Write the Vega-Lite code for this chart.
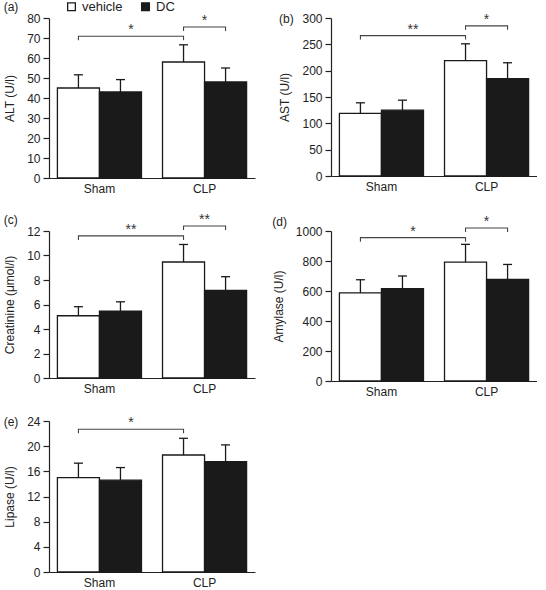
{
  "$schema": "https://vega.github.io/schema/vega-lite/v6.json",
  "padding": {"left": 3, "top": 0, "right": 0, "bottom": 0},
  "background": "white",
  "datasets": {
    "bars": [
      {"panel": "a", "group": "Sham", "trt": "vehicle", "mean": 45, "upper": 51.6},
      {"panel": "a", "group": "Sham", "trt": "DC", "mean": 43, "upper": 49.2},
      {"panel": "a", "group": "CLP", "trt": "vehicle", "mean": 58, "upper": 66.6},
      {"panel": "a", "group": "CLP", "trt": "DC", "mean": 48, "upper": 55},
      {"panel": "b", "group": "Sham", "trt": "vehicle", "mean": 119, "upper": 139},
      {"panel": "b", "group": "Sham", "trt": "DC", "mean": 125, "upper": 144},
      {"panel": "b", "group": "CLP", "trt": "vehicle", "mean": 219, "upper": 251},
      {"panel": "b", "group": "CLP", "trt": "DC", "mean": 185, "upper": 215},
      {"panel": "c", "group": "Sham", "trt": "vehicle", "mean": 5.08, "upper": 5.82},
      {"panel": "c", "group": "Sham", "trt": "DC", "mean": 5.45, "upper": 6.22},
      {"panel": "c", "group": "CLP", "trt": "vehicle", "mean": 9.47, "upper": 10.9},
      {"panel": "c", "group": "CLP", "trt": "DC", "mean": 7.15, "upper": 8.27},
      {"panel": "d", "group": "Sham", "trt": "vehicle", "mean": 587, "upper": 675},
      {"panel": "d", "group": "Sham", "trt": "DC", "mean": 615, "upper": 700},
      {"panel": "d", "group": "CLP", "trt": "vehicle", "mean": 793, "upper": 911},
      {"panel": "d", "group": "CLP", "trt": "DC", "mean": 677, "upper": 777},
      {"panel": "e", "group": "Sham", "trt": "vehicle", "mean": 15.0, "upper": 17.3},
      {"panel": "e", "group": "Sham", "trt": "DC", "mean": 14.6, "upper": 16.6},
      {"panel": "e", "group": "CLP", "trt": "vehicle", "mean": 18.6, "upper": 21.25},
      {"panel": "e", "group": "CLP", "trt": "DC", "mean": 17.55, "upper": 20.2}
    ],
    "brackets": [
      {"panel": "a", "id": "a1", "group": "Sham", "trt": "vehicle", "ord": 1, "y": 68.9},
      {"panel": "a", "id": "a1", "group": "Sham", "trt": "vehicle", "ord": 2, "y": 70.9},
      {"panel": "a", "id": "a1", "group": "CLP", "trt": "vehicle", "ord": 3, "y": 70.9},
      {"panel": "a", "id": "a1", "group": "CLP", "trt": "vehicle", "ord": 4, "y": 68.9},
      {"panel": "a", "id": "a2", "group": "CLP", "trt": "vehicle", "ord": 1, "y": 73.5},
      {"panel": "a", "id": "a2", "group": "CLP", "trt": "vehicle", "ord": 2, "y": 75.5},
      {"panel": "a", "id": "a2", "group": "CLP", "trt": "DC", "ord": 3, "y": 75.5},
      {"panel": "a", "id": "a2", "group": "CLP", "trt": "DC", "ord": 4, "y": 73.5},
      {"panel": "b", "id": "b1", "group": "Sham", "trt": "vehicle", "ord": 1, "y": 259},
      {"panel": "b", "id": "b1", "group": "Sham", "trt": "vehicle", "ord": 2, "y": 266.5},
      {"panel": "b", "id": "b1", "group": "CLP", "trt": "vehicle", "ord": 3, "y": 266.5},
      {"panel": "b", "id": "b1", "group": "CLP", "trt": "vehicle", "ord": 4, "y": 259},
      {"panel": "b", "id": "b2", "group": "CLP", "trt": "vehicle", "ord": 1, "y": 277.5},
      {"panel": "b", "id": "b2", "group": "CLP", "trt": "vehicle", "ord": 2, "y": 285},
      {"panel": "b", "id": "b2", "group": "CLP", "trt": "DC", "ord": 3, "y": 285},
      {"panel": "b", "id": "b2", "group": "CLP", "trt": "DC", "ord": 4, "y": 277.5},
      {"panel": "c", "id": "c1", "group": "Sham", "trt": "vehicle", "ord": 1, "y": 11.27},
      {"panel": "c", "id": "c1", "group": "Sham", "trt": "vehicle", "ord": 2, "y": 11.6},
      {"panel": "c", "id": "c1", "group": "CLP", "trt": "vehicle", "ord": 3, "y": 11.6},
      {"panel": "c", "id": "c1", "group": "CLP", "trt": "vehicle", "ord": 4, "y": 11.27},
      {"panel": "c", "id": "c2", "group": "CLP", "trt": "vehicle", "ord": 1, "y": 12.08},
      {"panel": "c", "id": "c2", "group": "CLP", "trt": "vehicle", "ord": 2, "y": 12.41},
      {"panel": "c", "id": "c2", "group": "CLP", "trt": "DC", "ord": 3, "y": 12.41},
      {"panel": "c", "id": "c2", "group": "CLP", "trt": "DC", "ord": 4, "y": 12.08},
      {"panel": "d", "id": "d1", "group": "Sham", "trt": "vehicle", "ord": 1, "y": 929},
      {"panel": "d", "id": "d1", "group": "Sham", "trt": "vehicle", "ord": 2, "y": 956},
      {"panel": "d", "id": "d1", "group": "CLP", "trt": "vehicle", "ord": 3, "y": 956},
      {"panel": "d", "id": "d1", "group": "CLP", "trt": "vehicle", "ord": 4, "y": 929},
      {"panel": "d", "id": "d2", "group": "CLP", "trt": "vehicle", "ord": 1, "y": 993},
      {"panel": "d", "id": "d2", "group": "CLP", "trt": "vehicle", "ord": 2, "y": 1020},
      {"panel": "d", "id": "d2", "group": "CLP", "trt": "DC", "ord": 3, "y": 1020},
      {"panel": "d", "id": "d2", "group": "CLP", "trt": "DC", "ord": 4, "y": 993},
      {"panel": "e", "id": "e1", "group": "Sham", "trt": "vehicle", "ord": 1, "y": 22.06},
      {"panel": "e", "id": "e1", "group": "Sham", "trt": "vehicle", "ord": 2, "y": 22.7},
      {"panel": "e", "id": "e1", "group": "CLP", "trt": "vehicle", "ord": 3, "y": 22.7},
      {"panel": "e", "id": "e1", "group": "CLP", "trt": "vehicle", "ord": 4, "y": 22.06}
    ],
    "stars": [
      {"panel": "a", "kind": "cross", "group": "Sham", "trt": "DC", "y": 70.9, "label": "*"},
      {"panel": "a", "kind": "within", "group": "CLP", "trt": "DC", "y": 75.5, "label": "*"},
      {"panel": "b", "kind": "cross", "group": "Sham", "trt": "DC", "y": 266.5, "label": "**"},
      {"panel": "b", "kind": "within", "group": "CLP", "trt": "DC", "y": 285, "label": "*"},
      {"panel": "c", "kind": "cross", "group": "Sham", "trt": "DC", "y": 11.6, "label": "**"},
      {"panel": "c", "kind": "within", "group": "CLP", "trt": "DC", "y": 12.41, "label": "**"},
      {"panel": "d", "kind": "cross", "group": "Sham", "trt": "DC", "y": 956, "label": "*"},
      {"panel": "d", "kind": "within", "group": "CLP", "trt": "DC", "y": 1020, "label": "*"},
      {"panel": "e", "kind": "cross", "group": "Sham", "trt": "DC", "y": 22.7, "label": "*"}
    ]
  },
  "columns": 2,
  "spacing": {"column": 17, "row": 18},
  "resolve": {"legend": {"fill": "independent"}, "scale": {"y": "independent"}},
  "concat": [
    {
      "width": 206, "height": 160,
      "title": {"text": "(a)"},
      "layer": [
        {"data": {"name": "bars"}, "transform": [{"filter": "datum.panel == 'a'"}],
         "mark": {"type": "rule", "stroke": "#1a1a1a", "strokeWidth": 1.3},
         "encoding": {"x": {"field": "group", "type": "nominal", "sort": ["Sham", "CLP"], "scale": {"paddingInner": 0.2, "paddingOuter": 0.08}},
           "xOffset": {"field": "trt", "type": "nominal", "sort": ["vehicle", "DC"], "scale": {"paddingInner": 0, "paddingOuter": 0}},
           "y": {"field": "mean", "type": "quantitative", "scale": {"domain": [0, 80], "nice": false}, "axis": {"title": "ALT (U/l)", "values": [0, 10, 20, 30, 40, 50, 60, 70, 80]}},
           "y2": {"field": "upper"}}},
        {"data": {"name": "bars"}, "transform": [{"filter": "datum.panel == 'a'"}],
         "mark": {"type": "tick", "orient": "horizontal", "color": "#1a1a1a", "thickness": 1.3, "size": 9, "opacity": 1},
         "encoding": {"x": {"field": "group", "type": "nominal", "sort": ["Sham", "CLP"]},
           "xOffset": {"field": "trt", "type": "nominal", "sort": ["vehicle", "DC"]},
           "y": {"field": "upper", "type": "quantitative", "axis": {"title": "ALT (U/l)", "values": [0, 10, 20, 30, 40, 50, 60, 70, 80]}}}},
        {"data": {"name": "bars"}, "transform": [{"filter": "datum.panel == 'a'"}],
         "mark": {"type": "bar", "stroke": "#1a1a1a", "strokeWidth": 1.3, "opacity": 1},
         "encoding": {"x": {"field": "group", "type": "nominal", "sort": ["Sham", "CLP"]},
           "xOffset": {"field": "trt", "type": "nominal", "sort": ["vehicle", "DC"]},
           "y": {"field": "mean", "type": "quantitative", "axis": {"title": "ALT (U/l)", "values": [0, 10, 20, 30, 40, 50, 60, 70, 80]}},
           "fill": {"field": "trt", "type": "nominal", "sort": ["vehicle", "DC"], "scale": {"domain": ["vehicle", "DC"], "range": ["white", "#1a1a1a"]},
             "legend": {"orient": "none", "legendX": 16, "legendY": -18, "direction": "horizontal", "title": null, "symbolType": "square", "symbolSize": 60, "symbolStrokeColor": "#1a1a1a", "symbolStrokeWidth": 1.3, "labelFontSize": 13, "labelOffset": 4, "columnPadding": 16, "labelColor": "#222"}}}},
        {"data": {"name": "brackets"}, "transform": [{"filter": "datum.panel == 'a'"}],
         "mark": {"type": "line", "stroke": "#444", "strokeWidth": 1.1},
         "encoding": {"x": {"field": "group", "type": "nominal", "sort": ["Sham", "CLP"]},
           "xOffset": {"field": "trt", "type": "nominal", "sort": ["vehicle", "DC"]},
           "y": {"field": "y", "type": "quantitative", "axis": {"title": "ALT (U/l)", "values": [0, 10, 20, 30, 40, 50, 60, 70, 80]}},
           "detail": {"field": "id"}, "order": {"field": "ord"}}},
        {"data": {"name": "stars"}, "transform": [{"filter": "datum.panel == 'a' && datum.kind == 'cross'"}],
         "mark": {"type": "text", "fontSize": 14, "dx": 10.5, "dy": -2, "baseline": "alphabetic", "fill": "#333"},
         "encoding": {"x": {"field": "group", "type": "nominal", "sort": ["Sham", "CLP"]},
           "xOffset": {"field": "trt", "type": "nominal", "sort": ["vehicle", "DC"]},
           "y": {"field": "y", "type": "quantitative", "axis": {"title": "ALT (U/l)", "values": [0, 10, 20, 30, 40, 50, 60, 70, 80]}}, "text": {"field": "label"}}},
        {"data": {"name": "stars"}, "transform": [{"filter": "datum.panel == 'a' && datum.kind == 'within'"}],
         "mark": {"type": "text", "fontSize": 14, "dy": -2, "baseline": "alphabetic", "fill": "#333"},
         "encoding": {"x": {"field": "group", "type": "nominal", "sort": ["Sham", "CLP"]},
           "y": {"field": "y", "type": "quantitative", "axis": {"title": "ALT (U/l)", "values": [0, 10, 20, 30, 40, 50, 60, 70, 80]}}, "text": {"field": "label"}}}
      ]
    },
    {
      "width": 206, "height": 158,
      "title": {"text": "(b)"},
      "layer": [
        {"data": {"name": "bars"}, "transform": [{"filter": "datum.panel == 'b'"}],
         "mark": {"type": "rule", "stroke": "#1a1a1a", "strokeWidth": 1.3},
         "encoding": {"x": {"field": "group", "type": "nominal", "sort": ["Sham", "CLP"], "scale": {"paddingInner": 0.2, "paddingOuter": 0.08}},
           "xOffset": {"field": "trt", "type": "nominal", "sort": ["vehicle", "DC"], "scale": {"paddingInner": 0, "paddingOuter": 0}},
           "y": {"field": "mean", "type": "quantitative", "scale": {"domain": [0, 300], "nice": false}, "axis": {"title": "AST (U/l)", "values": [0, 50, 100, 150, 200, 250, 300]}},
           "y2": {"field": "upper"}}},
        {"data": {"name": "bars"}, "transform": [{"filter": "datum.panel == 'b'"}],
         "mark": {"type": "tick", "orient": "horizontal", "color": "#1a1a1a", "thickness": 1.3, "size": 9, "opacity": 1},
         "encoding": {"x": {"field": "group", "type": "nominal", "sort": ["Sham", "CLP"]},
           "xOffset": {"field": "trt", "type": "nominal", "sort": ["vehicle", "DC"]},
           "y": {"field": "upper", "type": "quantitative", "axis": {"title": "AST (U/l)", "values": [0, 50, 100, 150, 200, 250, 300]}}}},
        {"data": {"name": "bars"}, "transform": [{"filter": "datum.panel == 'b'"}],
         "mark": {"type": "bar", "stroke": "#1a1a1a", "strokeWidth": 1.3, "opacity": 1},
         "encoding": {"x": {"field": "group", "type": "nominal", "sort": ["Sham", "CLP"]},
           "xOffset": {"field": "trt", "type": "nominal", "sort": ["vehicle", "DC"]},
           "y": {"field": "mean", "type": "quantitative", "axis": {"title": "AST (U/l)", "values": [0, 50, 100, 150, 200, 250, 300]}},
           "fill": {"field": "trt", "type": "nominal", "sort": ["vehicle", "DC"], "scale": {"domain": ["vehicle", "DC"], "range": ["white", "#1a1a1a"]}, "legend": null}}},
        {"data": {"name": "brackets"}, "transform": [{"filter": "datum.panel == 'b'"}],
         "mark": {"type": "line", "stroke": "#444", "strokeWidth": 1.1},
         "encoding": {"x": {"field": "group", "type": "nominal", "sort": ["Sham", "CLP"]},
           "xOffset": {"field": "trt", "type": "nominal", "sort": ["vehicle", "DC"]},
           "y": {"field": "y", "type": "quantitative", "axis": {"title": "AST (U/l)", "values": [0, 50, 100, 150, 200, 250, 300]}},
           "detail": {"field": "id"}, "order": {"field": "ord"}}},
        {"data": {"name": "stars"}, "transform": [{"filter": "datum.panel == 'b' && datum.kind == 'cross'"}],
         "mark": {"type": "text", "fontSize": 14, "dx": 10.5, "dy": -2, "baseline": "alphabetic", "fill": "#333"},
         "encoding": {"x": {"field": "group", "type": "nominal", "sort": ["Sham", "CLP"]},
           "xOffset": {"field": "trt", "type": "nominal", "sort": ["vehicle", "DC"]},
           "y": {"field": "y", "type": "quantitative", "axis": {"title": "AST (U/l)", "values": [0, 50, 100, 150, 200, 250, 300]}}, "text": {"field": "label"}}},
        {"data": {"name": "stars"}, "transform": [{"filter": "datum.panel == 'b' && datum.kind == 'within'"}],
         "mark": {"type": "text", "fontSize": 14, "dy": -2, "baseline": "alphabetic", "fill": "#333"},
         "encoding": {"x": {"field": "group", "type": "nominal", "sort": ["Sham", "CLP"]},
           "y": {"field": "y", "type": "quantitative", "axis": {"title": "AST (U/l)", "values": [0, 50, 100, 150, 200, 250, 300]}}, "text": {"field": "label"}}}
      ]
    },
    {
      "width": 206, "height": 147,
      "title": {"text": "(c)"},
      "layer": [
        {"data": {"name": "bars"}, "transform": [{"filter": "datum.panel == 'c'"}],
         "mark": {"type": "rule", "stroke": "#1a1a1a", "strokeWidth": 1.3},
         "encoding": {"x": {"field": "group", "type": "nominal", "sort": ["Sham", "CLP"], "scale": {"paddingInner": 0.2, "paddingOuter": 0.08}},
           "xOffset": {"field": "trt", "type": "nominal", "sort": ["vehicle", "DC"], "scale": {"paddingInner": 0, "paddingOuter": 0}},
           "y": {"field": "mean", "type": "quantitative", "scale": {"domain": [0, 12], "nice": false}, "axis": {"title": "Creatinine (μmol/l)", "values": [0, 2, 4, 6, 8, 10, 12]}},
           "y2": {"field": "upper"}}},
        {"data": {"name": "bars"}, "transform": [{"filter": "datum.panel == 'c'"}],
         "mark": {"type": "tick", "orient": "horizontal", "color": "#1a1a1a", "thickness": 1.3, "size": 9, "opacity": 1},
         "encoding": {"x": {"field": "group", "type": "nominal", "sort": ["Sham", "CLP"]},
           "xOffset": {"field": "trt", "type": "nominal", "sort": ["vehicle", "DC"]},
           "y": {"field": "upper", "type": "quantitative", "axis": {"title": "Creatinine (μmol/l)", "values": [0, 2, 4, 6, 8, 10, 12]}}}},
        {"data": {"name": "bars"}, "transform": [{"filter": "datum.panel == 'c'"}],
         "mark": {"type": "bar", "stroke": "#1a1a1a", "strokeWidth": 1.3, "opacity": 1},
         "encoding": {"x": {"field": "group", "type": "nominal", "sort": ["Sham", "CLP"]},
           "xOffset": {"field": "trt", "type": "nominal", "sort": ["vehicle", "DC"]},
           "y": {"field": "mean", "type": "quantitative", "axis": {"title": "Creatinine (μmol/l)", "values": [0, 2, 4, 6, 8, 10, 12]}},
           "fill": {"field": "trt", "type": "nominal", "sort": ["vehicle", "DC"], "scale": {"domain": ["vehicle", "DC"], "range": ["white", "#1a1a1a"]}, "legend": null}}},
        {"data": {"name": "brackets"}, "transform": [{"filter": "datum.panel == 'c'"}],
         "mark": {"type": "line", "stroke": "#444", "strokeWidth": 1.1},
         "encoding": {"x": {"field": "group", "type": "nominal", "sort": ["Sham", "CLP"]},
           "xOffset": {"field": "trt", "type": "nominal", "sort": ["vehicle", "DC"]},
           "y": {"field": "y", "type": "quantitative", "axis": {"title": "Creatinine (μmol/l)", "values": [0, 2, 4, 6, 8, 10, 12]}},
           "detail": {"field": "id"}, "order": {"field": "ord"}}},
        {"data": {"name": "stars"}, "transform": [{"filter": "datum.panel == 'c' && datum.kind == 'cross'"}],
         "mark": {"type": "text", "fontSize": 14, "dx": 10.5, "dy": -2, "baseline": "alphabetic", "fill": "#333"},
         "encoding": {"x": {"field": "group", "type": "nominal", "sort": ["Sham", "CLP"]},
           "xOffset": {"field": "trt", "type": "nominal", "sort": ["vehicle", "DC"]},
           "y": {"field": "y", "type": "quantitative", "axis": {"title": "Creatinine (μmol/l)", "values": [0, 2, 4, 6, 8, 10, 12]}}, "text": {"field": "label"}}},
        {"data": {"name": "stars"}, "transform": [{"filter": "datum.panel == 'c' && datum.kind == 'within'"}],
         "mark": {"type": "text", "fontSize": 14, "dy": -2, "baseline": "alphabetic", "fill": "#333"},
         "encoding": {"x": {"field": "group", "type": "nominal", "sort": ["Sham", "CLP"]},
           "y": {"field": "y", "type": "quantitative", "axis": {"title": "Creatinine (μmol/l)", "values": [0, 2, 4, 6, 8, 10, 12]}}, "text": {"field": "label"}}}
      ]
    },
    {
      "width": 206, "height": 150,
      "title": {"text": "(d)"},
      "layer": [
        {"data": {"name": "bars"}, "transform": [{"filter": "datum.panel == 'd'"}],
         "mark": {"type": "rule", "stroke": "#1a1a1a", "strokeWidth": 1.3},
         "encoding": {"x": {"field": "group", "type": "nominal", "sort": ["Sham", "CLP"], "scale": {"paddingInner": 0.2, "paddingOuter": 0.08}},
           "xOffset": {"field": "trt", "type": "nominal", "sort": ["vehicle", "DC"], "scale": {"paddingInner": 0, "paddingOuter": 0}},
           "y": {"field": "mean", "type": "quantitative", "scale": {"domain": [0, 1000], "nice": false}, "axis": {"title": "Amylase (U/l)", "format": "d", "values": [0, 200, 400, 600, 800, 1000]}},
           "y2": {"field": "upper"}}},
        {"data": {"name": "bars"}, "transform": [{"filter": "datum.panel == 'd'"}],
         "mark": {"type": "tick", "orient": "horizontal", "color": "#1a1a1a", "thickness": 1.3, "size": 9, "opacity": 1},
         "encoding": {"x": {"field": "group", "type": "nominal", "sort": ["Sham", "CLP"]},
           "xOffset": {"field": "trt", "type": "nominal", "sort": ["vehicle", "DC"]},
           "y": {"field": "upper", "type": "quantitative", "axis": {"title": "Amylase (U/l)", "format": "d", "values": [0, 200, 400, 600, 800, 1000]}}}},
        {"data": {"name": "bars"}, "transform": [{"filter": "datum.panel == 'd'"}],
         "mark": {"type": "bar", "stroke": "#1a1a1a", "strokeWidth": 1.3, "opacity": 1},
         "encoding": {"x": {"field": "group", "type": "nominal", "sort": ["Sham", "CLP"]},
           "xOffset": {"field": "trt", "type": "nominal", "sort": ["vehicle", "DC"]},
           "y": {"field": "mean", "type": "quantitative", "axis": {"title": "Amylase (U/l)", "format": "d", "values": [0, 200, 400, 600, 800, 1000]}},
           "fill": {"field": "trt", "type": "nominal", "sort": ["vehicle", "DC"], "scale": {"domain": ["vehicle", "DC"], "range": ["white", "#1a1a1a"]}, "legend": null}}},
        {"data": {"name": "brackets"}, "transform": [{"filter": "datum.panel == 'd'"}],
         "mark": {"type": "line", "stroke": "#444", "strokeWidth": 1.1},
         "encoding": {"x": {"field": "group", "type": "nominal", "sort": ["Sham", "CLP"]},
           "xOffset": {"field": "trt", "type": "nominal", "sort": ["vehicle", "DC"]},
           "y": {"field": "y", "type": "quantitative", "axis": {"title": "Amylase (U/l)", "format": "d", "values": [0, 200, 400, 600, 800, 1000]}},
           "detail": {"field": "id"}, "order": {"field": "ord"}}},
        {"data": {"name": "stars"}, "transform": [{"filter": "datum.panel == 'd' && datum.kind == 'cross'"}],
         "mark": {"type": "text", "fontSize": 14, "dx": 10.5, "dy": -2, "baseline": "alphabetic", "fill": "#333"},
         "encoding": {"x": {"field": "group", "type": "nominal", "sort": ["Sham", "CLP"]},
           "xOffset": {"field": "trt", "type": "nominal", "sort": ["vehicle", "DC"]},
           "y": {"field": "y", "type": "quantitative", "axis": {"title": "Amylase (U/l)", "format": "d", "values": [0, 200, 400, 600, 800, 1000]}}, "text": {"field": "label"}}},
        {"data": {"name": "stars"}, "transform": [{"filter": "datum.panel == 'd' && datum.kind == 'within'"}],
         "mark": {"type": "text", "fontSize": 14, "dy": -2, "baseline": "alphabetic", "fill": "#333"},
         "encoding": {"x": {"field": "group", "type": "nominal", "sort": ["Sham", "CLP"]},
           "y": {"field": "y", "type": "quantitative", "axis": {"title": "Amylase (U/l)", "format": "d", "values": [0, 200, 400, 600, 800, 1000]}}, "text": {"field": "label"}}}
      ]
    },
    {
      "width": 206, "height": 151,
      "title": {"text": "(e)"},
      "layer": [
        {"data": {"name": "bars"}, "transform": [{"filter": "datum.panel == 'e'"}],
         "mark": {"type": "rule", "stroke": "#1a1a1a", "strokeWidth": 1.3},
         "encoding": {"x": {"field": "group", "type": "nominal", "sort": ["Sham", "CLP"], "scale": {"paddingInner": 0.2, "paddingOuter": 0.08}},
           "xOffset": {"field": "trt", "type": "nominal", "sort": ["vehicle", "DC"], "scale": {"paddingInner": 0, "paddingOuter": 0}},
           "y": {"field": "mean", "type": "quantitative", "scale": {"domain": [0, 24], "nice": false}, "axis": {"title": "Lipase (U/l)", "values": [0, 4, 8, 12, 16, 20, 24]}},
           "y2": {"field": "upper"}}},
        {"data": {"name": "bars"}, "transform": [{"filter": "datum.panel == 'e'"}],
         "mark": {"type": "tick", "orient": "horizontal", "color": "#1a1a1a", "thickness": 1.3, "size": 9, "opacity": 1},
         "encoding": {"x": {"field": "group", "type": "nominal", "sort": ["Sham", "CLP"]},
           "xOffset": {"field": "trt", "type": "nominal", "sort": ["vehicle", "DC"]},
           "y": {"field": "upper", "type": "quantitative", "axis": {"title": "Lipase (U/l)", "values": [0, 4, 8, 12, 16, 20, 24]}}}},
        {"data": {"name": "bars"}, "transform": [{"filter": "datum.panel == 'e'"}],
         "mark": {"type": "bar", "stroke": "#1a1a1a", "strokeWidth": 1.3, "opacity": 1},
         "encoding": {"x": {"field": "group", "type": "nominal", "sort": ["Sham", "CLP"]},
           "xOffset": {"field": "trt", "type": "nominal", "sort": ["vehicle", "DC"]},
           "y": {"field": "mean", "type": "quantitative", "axis": {"title": "Lipase (U/l)", "values": [0, 4, 8, 12, 16, 20, 24]}},
           "fill": {"field": "trt", "type": "nominal", "sort": ["vehicle", "DC"], "scale": {"domain": ["vehicle", "DC"], "range": ["white", "#1a1a1a"]}, "legend": null}}},
        {"data": {"name": "brackets"}, "transform": [{"filter": "datum.panel == 'e'"}],
         "mark": {"type": "line", "stroke": "#444", "strokeWidth": 1.1},
         "encoding": {"x": {"field": "group", "type": "nominal", "sort": ["Sham", "CLP"]},
           "xOffset": {"field": "trt", "type": "nominal", "sort": ["vehicle", "DC"]},
           "y": {"field": "y", "type": "quantitative", "axis": {"title": "Lipase (U/l)", "values": [0, 4, 8, 12, 16, 20, 24]}},
           "detail": {"field": "id"}, "order": {"field": "ord"}}},
        {"data": {"name": "stars"}, "transform": [{"filter": "datum.panel == 'e' && datum.kind == 'cross'"}],
         "mark": {"type": "text", "fontSize": 14, "dx": 10.5, "dy": -2, "baseline": "alphabetic", "fill": "#333"},
         "encoding": {"x": {"field": "group", "type": "nominal", "sort": ["Sham", "CLP"]},
           "xOffset": {"field": "trt", "type": "nominal", "sort": ["vehicle", "DC"]},
           "y": {"field": "y", "type": "quantitative", "axis": {"title": "Lipase (U/l)", "values": [0, 4, 8, 12, 16, 20, 24]}}, "text": {"field": "label"}}}
      ]
    }
  ],
  "config": {
    "font": "Liberation Sans",
    "view": {"stroke": null},
    "axis": {"labelFontSize": 12, "titleFontSize": 12, "titleFontWeight": "normal", "labelColor": "#222", "titleColor": "#222", "domainColor": "#222", "tickColor": "#222", "grid": false, "domainWidth": 1.2, "tickWidth": 1.2, "labelOverlap": false},
    "axisX": {"ticks": false, "labelAngle": 0, "title": null, "labelPadding": 5},
    "axisY": {"tickSize": 6, "labelPadding": 3, "titlePadding": 10},
    "title": {"fontSize": 12, "fontWeight": "normal", "anchor": "start", "frame": "bounds", "color": "#222", "offset": -14}
  }
}
